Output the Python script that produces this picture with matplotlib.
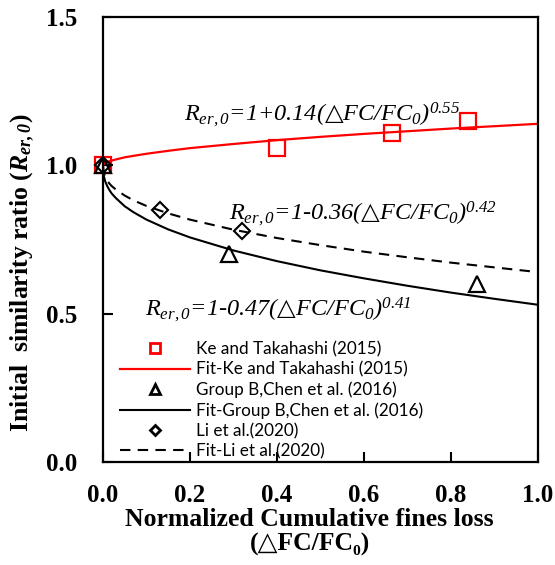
import numpy as np
import matplotlib
matplotlib.use("Agg")
import matplotlib.pyplot as plt

# data
ke_x = [0.0, 0.40, 0.665, 0.84]
ke_y = [1.0, 1.06, 1.11, 1.15]

chen_x = [0.0, 0.29, 0.86]
chen_y = [1.0, 0.70, 0.60]

li_x = [0.0, 0.13, 0.32]
li_y = [1.0, 0.85, 0.78]

# fitted curves
fit_x = [0.0, 0.001, 0.002, 0.005, 0.01, 0.015, 0.02, 0.03, 0.05, 0.07, 0.1, 0.15,
         0.2, 0.3, 0.4, 0.5, 0.6, 0.7, 0.8, 0.9, 1.0]
fit_ke = [1.0, 1.003, 1.005, 1.008, 1.011, 1.014, 1.016, 1.020, 1.027, 1.032, 1.039, 1.049,
          1.058, 1.072, 1.085, 1.096, 1.106, 1.115, 1.124, 1.132, 1.140]
fit_chen = [1.0, 0.972, 0.963, 0.946, 0.929, 0.916, 0.905, 0.889, 0.862, 0.842, 0.817, 0.784,
            0.757, 0.713, 0.677, 0.646, 0.619, 0.594, 0.571, 0.550, 0.530]
fit_li = [1.0, 0.980, 0.974, 0.961, 0.948, 0.938, 0.930, 0.918, 0.898, 0.882, 0.863, 0.838,
          0.817, 0.783, 0.755, 0.731, 0.709, 0.690, 0.672, 0.656, 0.640]

plt.rcParams['mathtext.fontset'] = 'custom'
plt.rcParams['mathtext.rm'] = 'Liberation Serif:italic'
plt.rcParams['mathtext.it'] = 'Liberation Serif:italic'
plt.rcParams['mathtext.bf'] = 'Liberation Serif:bold:italic'
plt.rcParams['mathtext.sf'] = 'DejaVu Serif'

fig = plt.figure(figsize=(5.55, 5.65), dpi=100)
ax = fig.add_axes([0.1856, 0.1823, 0.7838, 0.7876])

ax.plot(fit_x, fit_ke, color='red', lw=1.6, label='Fit-Ke and Takahashi (2015)', zorder=2)
ax.plot(fit_x, fit_chen, color='black', lw=1.5, label='Fit-Group B,Chen et al. (2016)', zorder=2)
ax.plot(fit_x, fit_li, color='black', lw=1.5, ls=(0, (5, 3.5)), label='Fit-Li et al.(2020)', zorder=2)

ax.plot(ke_x, ke_y, ls='none', marker='s', ms=11, mfc='none', mec='red', mew=1.6,
        label='Ke and Takahashi (2015)', clip_on=False, zorder=3)
ax.plot(chen_x, chen_y, ls='none', marker='^', ms=11, mfc='none', mec='black', mew=1.6,
        label='Group B,Chen et al. (2016)', clip_on=False, zorder=4)
ax.plot(li_x, li_y, ls='none', marker='D', ms=8, mfc='none', mec='black', mew=1.5,
        label='Li et al.(2020)', clip_on=False, zorder=5)

ax.set_xlim(0, 1.0)
ax.set_ylim(0, 1.5)
ax.set_xticks(np.arange(0, 1.01, 0.2))
ax.set_yticks([0.0, 0.5, 1.0, 1.5])
ax.set_xticklabels(['0.0', '0.2', '0.4', '0.6', '0.8', '1.0'])
ax.set_yticklabels(['0.0', '0.5', '1.0', '1.5'])
ax.tick_params(direction='in', length=7, width=1.5)
ax.tick_params(axis='y', pad=18.5)
ax.tick_params(axis='x', pad=16)
for lab in ax.get_xticklabels() + ax.get_yticklabels():
    lab.set_fontfamily('Liberation Serif')
    lab.set_fontweight('bold')
    lab.set_fontsize(18)
for s in ax.spines.values():
    s.set_linewidth(1.6)

ax.set_xlabel('Normalized Cumulative fines loss\n(△FC/FC₀)',
              family=['Liberation Serif', 'DejaVu Serif'], fontweight='bold',
              fontsize=18.5, linespacing=1.1, va='top')
ax.xaxis.set_label_coords(0.475, -0.103)
ax.set_ylabel(r'Initial  similarity ratio ($\mathbf{R_{er,0}}$)',
              family='Liberation Serif', fontweight='bold', fontsize=18.5)
ax.yaxis.set_label_coords(-0.152, 0.425)

anno = dict(family='Liberation Serif', style='italic', fontsize=17.5)
ax.text(0.186, 1.151, r'$R_{er,0}$=1+0.14($\mathsf{△}$FC/FC$_0$)$^{0.55}$', **anno)
ax.text(0.29, 0.816, r'$R_{er,0}$=1-0.36($\mathsf{△}$FC/FC$_0$)$^{0.42}$', **anno)
ax.text(0.097, 0.494, r'$R_{er,0}$=1-0.47($\mathsf{△}$FC/FC$_0$)$^{0.41}$', **anno)

h, l = ax.get_legend_handles_labels()
order = [3, 0, 4, 1, 5, 2]
leg = ax.legend([h[i] for i in order], [l[i] for i in order], loc='lower left',
                bbox_to_anchor=(0.04, 0.006), frameon=False, borderpad=0, borderaxespad=0,
                handlelength=4.1, handletextpad=0.35, labelspacing=0.24, markerscale=0.65,
                prop={'family': 'Lato', 'size': 12.3})
for lh in leg.legend_handles:
    lh.set_markeredgewidth(2)

plt.savefig('out.png', dpi=100)
